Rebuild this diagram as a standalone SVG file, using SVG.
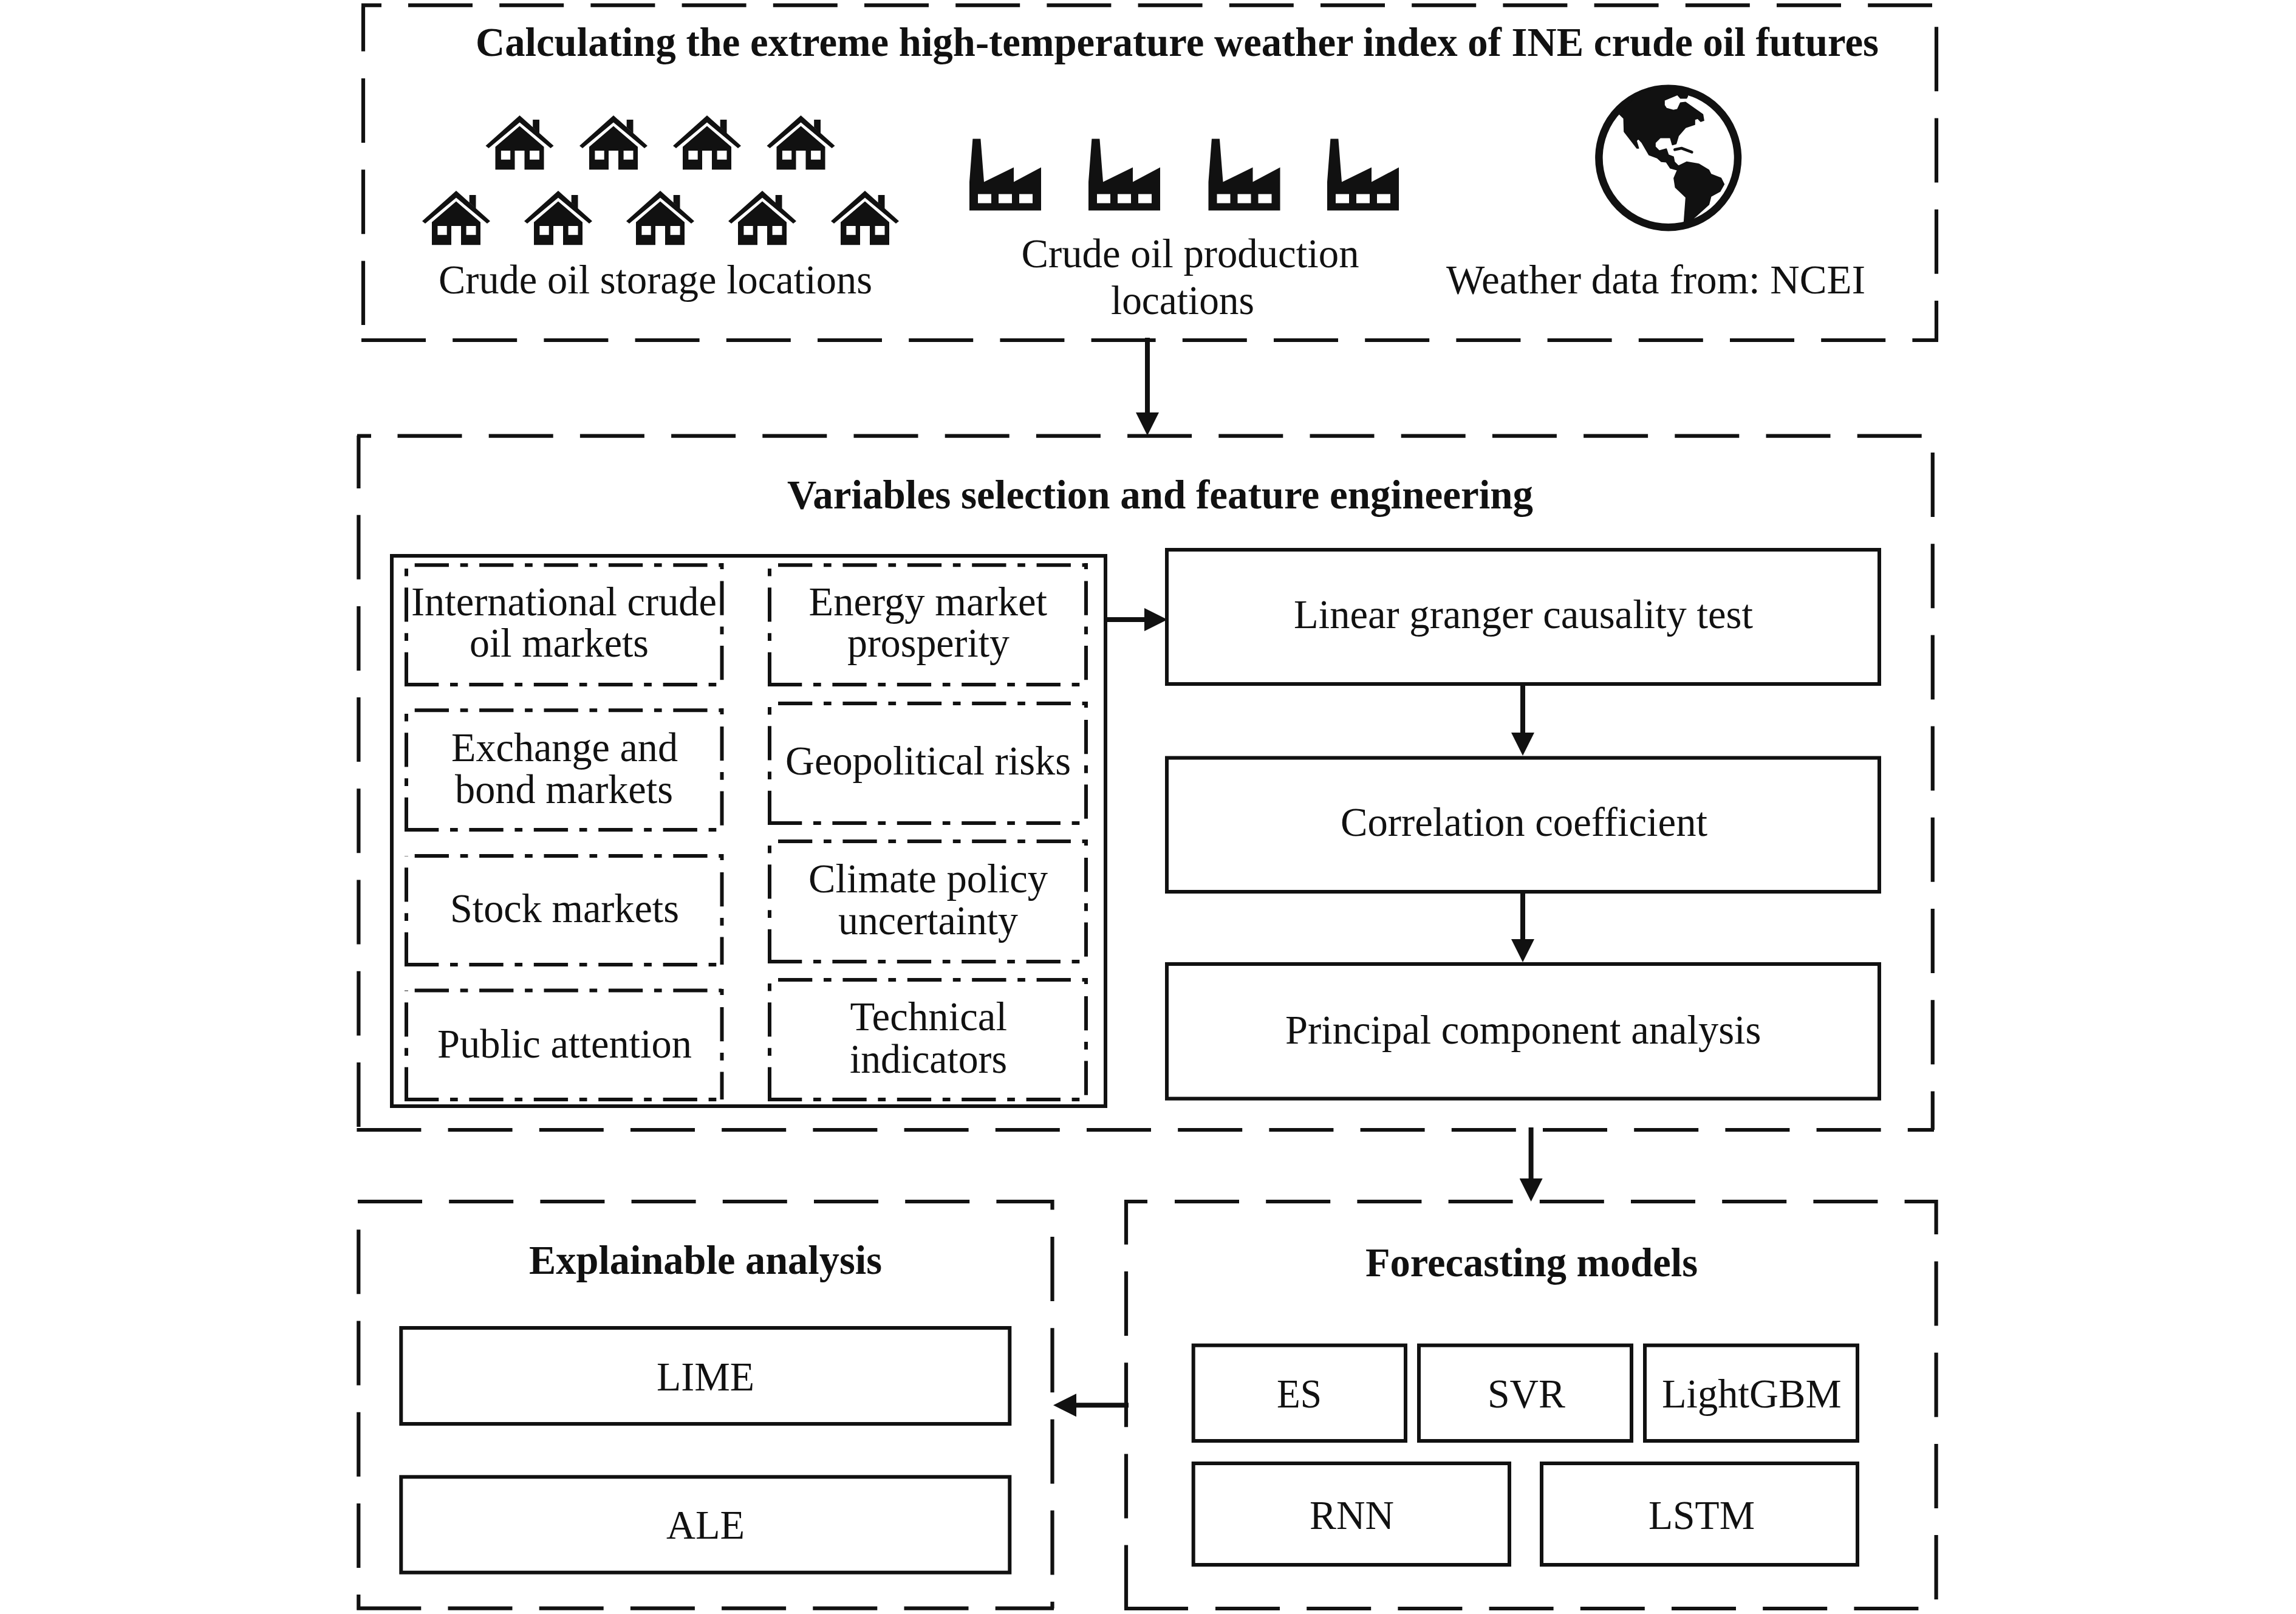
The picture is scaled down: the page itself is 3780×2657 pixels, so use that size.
<svg xmlns="http://www.w3.org/2000/svg" width="3780" height="2657" viewBox="0 0 3780 2657">
<style>
text{font-family:"Liberation Serif","Times New Roman",serif;fill:#111}
.r{font-size:67px}
.b{font-size:67px;font-weight:700}
.dash{fill:none;stroke:#111;stroke-width:6.2;stroke-dasharray:106 44.2}
.dd{fill:none;stroke:#111;stroke-width:6;stroke-dasharray:56.3 18.7 12.7 18.7}
.box{fill:none;stroke:#111;stroke-width:6}
.conn{fill:none;stroke:#111;stroke-width:8}
.icon{fill:#111;fill-rule:evenodd}
</style>
<defs>
<marker id="arrow" markerUnits="userSpaceOnUse" markerWidth="38" markerHeight="38" refX="0" refY="19" orient="auto"><path d="M0,0L38,19L0,38Z" fill="#111"/></marker>
<path id="house" class="icon" d="M0,0L56,50L51,54L0,11.5L-51,54L-56,50ZM21.7,19.4V7H32.5V29ZM0,17.6L40,51.7V89.2H8V58H-8V89.2H-40V51.7ZM-30.6,58H-15.3V72.8H-30.6ZM16.6,58H32.5V72.8H16.6Z"/>
<path id="factory" class="icon" d="M0,118V71L5.4,0H18.4L24,71L73,47V71L118,47V118ZM14,91V106H36V91ZM48,91V106H70V91ZM82,91V106H104V91Z"/>
</defs>
<rect width="3780" height="2657" fill="#fff"/>

<g id="connectors">
<line class="conn" x1="1889" y1="556" x2="1889" y2="679" marker-end="url(#arrow)"/>
<line class="conn" x1="1820" y1="1020" x2="1884" y2="1020" marker-end="url(#arrow)"/>
<line class="conn" x1="2507" y1="1124" x2="2507" y2="1206" marker-end="url(#arrow)"/>
<line class="conn" x1="2507" y1="1466" x2="2507" y2="1546" marker-end="url(#arrow)"/>
<line class="conn" x1="2520.6" y1="1856" x2="2520.6" y2="1940" marker-end="url(#arrow)"/>
<line class="conn" x1="1858" y1="2313.3" x2="1772" y2="2313.3" marker-end="url(#arrow)"/>
</g>

<g id="node-weather-index">
<path class="dash" d="M595,8.7H628M672,8.7H3181M3188,44.3V560M598,11.5V84.6M598,129V535M595,560H3191"/>
<text class="b" x="783" y="91.7" textLength="2310" lengthAdjust="spacingAndGlyphs">Calculating the extreme high-temperature weather index of INE crude oil futures</text>
<g id="storage-icons">
<use href="#house" x="855.5" y="190"/><use href="#house" x="1010" y="190"/><use href="#house" x="1164" y="190"/><use href="#house" x="1318.5" y="190"/>
<use href="#house" x="751" y="314"/><use href="#house" x="919" y="314"/><use href="#house" x="1087" y="314"/><use href="#house" x="1255" y="314"/><use href="#house" x="1424" y="314"/>
</g>
<text class="r" x="722" y="483" textLength="714" lengthAdjust="spacingAndGlyphs">Crude oil storage locations</text>
<g id="production-icons">
<use href="#factory" x="1596" y="228.6"/><use href="#factory" x="1792" y="228.6"/><use href="#factory" x="1989.5" y="228.6"/><use href="#factory" x="2185" y="228.6"/>
</g>
<text class="r" x="1681.5" y="440" textLength="556" lengthAdjust="spacingAndGlyphs">Crude oil production</text>
<text class="r" x="1829" y="517" textLength="236" lengthAdjust="spacingAndGlyphs">locations</text>
<g id="globe-icon">
<circle cx="2746.7" cy="260" r="114.3" fill="none" stroke="#111" stroke-width="12.5"/>
<g transform="translate(2600,120) scale(.33333)">
<path fill="#111" stroke="#111" stroke-width="5" stroke-linejoin="round" d="M200,205L220,225L222,290L285,372L293,372L282,335L292,325L310,345L345,405L385,420L405,438L430,440L450,470L485,480L468,520L475,565L527,615L518,735L560,722L640,650L650,610L695,585L715,550L700,520L650,500L640,480L590,450L530,440L490,460L470,440L465,415L440,405L430,375L395,385L375,365L375,345L400,320L450,320L460,355L478,350L490,310L525,270L570,255L570,230L585,225L600,240L615,235L610,205L525,145L500,148L485,180L465,185L430,175L420,160L420,135L485,108L500,125L530,125L535,115L535,80L480,75L420,75L300,90Z"/>
<path fill="none" stroke="#111" stroke-width="14" stroke-linecap="round" stroke-linejoin="round" d="M472,379L505,372L556,391"/>
</g>
</g>
<text class="r" x="2381" y="483" textLength="690" lengthAdjust="spacingAndGlyphs">Weather data from: NCEI</text>
</g>

<g id="node-variables">
<path class="dash" d="M588,717.7H611M654.5,717.7H3164M590.4,717V804M590.4,847.7V1855M3181.8,745V1860M587.4,1860H3184"/>
<text class="b" x="1296" y="837" textLength="1228" lengthAdjust="spacingAndGlyphs">Variables selection and feature engineering</text>
<rect class="box" x="645" y="915" width="1175" height="906"/>
<g id="var-international">
<path class="dd" d="M682.7,930.3H1188M666,1127H1188M669,1130V930M1188.5,927V937M1188.5,956.5V1127"/>
<text class="r" x="677" y="1012.6" textLength="503" lengthAdjust="spacingAndGlyphs">International crude</text>
<text class="r" x="773" y="1081" textLength="295" lengthAdjust="spacingAndGlyphs">oil markets</text>
</g>
<g id="var-exchange">
<path class="dd" d="M682.7,1169.3H1188M666,1366H1188M669,1369V1169M1188.5,1166V1176M1188.5,1196V1366"/>
<text class="r" x="743" y="1253" textLength="373" lengthAdjust="spacingAndGlyphs">Exchange and</text>
<text class="r" x="749" y="1322" textLength="359" lengthAdjust="spacingAndGlyphs">bond markets</text>
</g>
<g id="var-stock">
<path class="dd" d="M682.7,1409H1188M666,1588H1188M669,1591V1409M1188.5,1406V1416M1188.5,1436V1588"/>
<text class="r" x="741" y="1518" textLength="377" lengthAdjust="spacingAndGlyphs">Stock markets</text>
</g>
<g id="var-public">
<path class="dd" d="M682.7,1630.6H1188M666,1810H1188M669,1813V1630.6M1188.5,1628V1638M1188.5,1658V1810"/>
<text class="r" x="720" y="1741" textLength="419" lengthAdjust="spacingAndGlyphs">Public attention</text>
</g>
<g id="var-energy">
<path class="dd" d="M1281,930.3H1788M1264,1127H1788M1267,1130V930M1788,927V937M1788,956.5V1127"/>
<text class="r" x="1331.5" y="1012.6" textLength="392.5" lengthAdjust="spacingAndGlyphs">Energy market</text>
<text class="r" x="1395" y="1081" textLength="267" lengthAdjust="spacingAndGlyphs">prosperity</text>
</g>
<g id="var-geopolitical">
<path class="dd" d="M1281,1158H1788M1264,1355H1788M1267,1358V1158M1788,1155V1165M1788,1185V1355"/>
<text class="r" x="1293" y="1275" textLength="470" lengthAdjust="spacingAndGlyphs">Geopolitical risks</text>
</g>
<g id="var-climate">
<path class="dd" d="M1281,1385H1788M1264,1583H1788M1267,1586V1385M1788,1382V1392M1788,1412V1583"/>
<text class="r" x="1331" y="1469" textLength="394" lengthAdjust="spacingAndGlyphs">Climate policy</text>
<text class="r" x="1380" y="1538" textLength="296" lengthAdjust="spacingAndGlyphs">uncertainty</text>
</g>
<g id="var-technical">
<path class="dd" d="M1281,1613H1788M1264,1810H1788M1267,1813V1613M1788,1610V1620M1788,1640V1810"/>
<text class="r" x="1399.5" y="1696" textLength="258.5" lengthAdjust="spacingAndGlyphs">Technical</text>
<text class="r" x="1399" y="1766" textLength="259" lengthAdjust="spacingAndGlyphs">indicators</text>
</g>
<g id="step-granger">
<rect class="box" x="1921" y="905" width="1173" height="221"/>
<text class="r" x="2130" y="1034" textLength="756" lengthAdjust="spacingAndGlyphs">Linear granger causality test</text>
</g>
<g id="step-correlation">
<rect class="box" x="1921" y="1247.6" width="1173" height="220.4"/>
<text class="r" x="2207" y="1376" textLength="604" lengthAdjust="spacingAndGlyphs">Correlation coefficient</text>
</g>
<g id="step-pca">
<rect class="box" x="1921" y="1587" width="1173" height="221.6"/>
<text class="r" x="2116" y="1718" textLength="783.5" lengthAdjust="spacingAndGlyphs">Principal component analysis</text>
</g>
</g>

<g id="node-explainable">
<path class="dash" d="M589,1978H1735M1732.5,1975V1991.5M1732.5,2036V2648M587.3,2647.7H1735M590.3,2024.3V2650"/>
<text class="b" x="871" y="2097" textLength="581" lengthAdjust="spacingAndGlyphs">Explainable analysis</text>
<g id="method-lime">
<rect class="box" x="660.3" y="2186" width="1002" height="158"/>
<text class="r" x="1081" y="2289" textLength="161" lengthAdjust="spacingAndGlyphs">LIME</text>
</g>
<g id="method-ale">
<rect class="box" x="660.3" y="2431.3" width="1002" height="157.4"/>
<text class="r" x="1097" y="2533" textLength="129" lengthAdjust="spacingAndGlyphs">ALE</text>
</g>
</g>

<g id="node-forecasting">
<path class="dash" d="M1851,1978H1889M1934,1978H3190M1854,1975V2048.7M1854,2093V2648M3187.6,1975V2032M3187.6,2076.5V2648M1851,2648H1956M2001,2648H3160"/>
<text class="b" x="2248" y="2100.6" textLength="547" lengthAdjust="spacingAndGlyphs">Forecasting models</text>
<g id="model-es">
<rect class="box" x="1964.7" y="2214.7" width="349.3" height="157.3"/>
<text class="r" x="2102" y="2316.7" textLength="74" lengthAdjust="spacingAndGlyphs">ES</text>
</g>
<g id="model-svr">
<rect class="box" x="2336" y="2214.7" width="350" height="157.3"/>
<text class="r" x="2449" y="2316.7" textLength="128" lengthAdjust="spacingAndGlyphs">SVR</text>
</g>
<g id="model-lightgbm">
<rect class="box" x="2708" y="2214.7" width="350" height="157.3"/>
<text class="r" x="2736" y="2316.7" textLength="295.6" lengthAdjust="spacingAndGlyphs">LightGBM</text>
</g>
<g id="model-rnn">
<rect class="box" x="1964.7" y="2409" width="520.3" height="167"/>
<text class="r" x="2156" y="2516.5" textLength="139" lengthAdjust="spacingAndGlyphs">RNN</text>
</g>
<g id="model-lstm">
<rect class="box" x="2538" y="2409" width="520" height="167"/>
<text class="r" x="2714" y="2516.5" textLength="175" lengthAdjust="spacingAndGlyphs">LSTM</text>
</g>
</g>
</svg>
